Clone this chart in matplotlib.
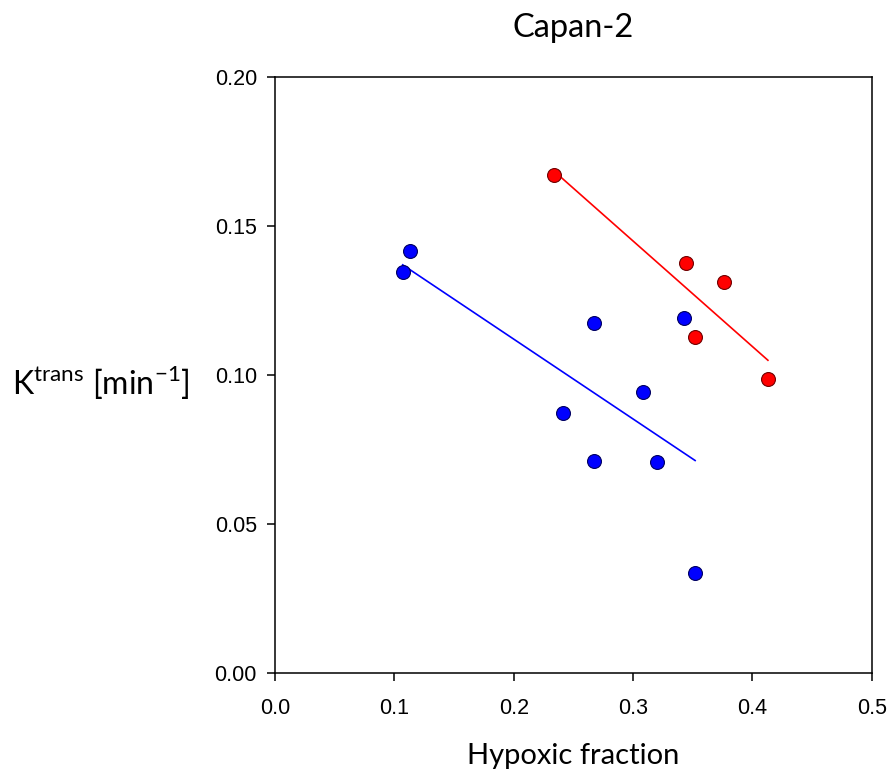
import numpy as np
import matplotlib
matplotlib.use('Agg')
import matplotlib.pyplot as plt

# Capan-2: Ktrans vs hypoxic fraction, two groups with linear fits
blue_x = [0.107, 0.113, 0.241, 0.267, 0.267, 0.308, 0.320, 0.343, 0.352]
blue_y = [0.1346, 0.1415, 0.0874, 0.1175, 0.0710, 0.0942, 0.0707, 0.1193, 0.0334]

red_x = [0.234, 0.344, 0.352, 0.376, 0.413]
red_y = [0.1672, 0.1377, 0.1126, 0.1311, 0.0987]

x_ticks = [0.0, 0.1, 0.2, 0.3, 0.4, 0.5]
y_ticks = [0.00, 0.05, 0.10, 0.15, 0.20]

fig = plt.figure(figsize=(8.92, 7.71), dpi=100)
ax = fig.add_axes([0.3083, 0.1271, 0.669, 0.773])

def fit_line(xs, ys, color):
    xs, ys = np.asarray(xs), np.asarray(ys)
    m, b = np.polyfit(xs, ys, 1)
    xx = np.array([xs.min(), xs.max()])
    ax.plot(xx, m * xx + b, color=color, lw=1.2, zorder=2)

fit_line(blue_x, blue_y, '#0000ff')
fit_line(red_x, red_y, '#ff0000')

ax.plot(blue_x, blue_y, 'o', ms=10, mfc='#0000ff', mec='#000060', mew=0.8, zorder=3)
ax.plot(red_x, red_y, 'o', ms=10, mfc='#ff0000', mec='#700000', mew=0.8, zorder=3)

ax.set_xlim(0, 0.5)
ax.set_ylim(0, 0.2)
ax.set_xticks(x_ticks)
ax.set_yticks(y_ticks)
ax.set_xticklabels([f'{v:.1f}' for v in x_ticks])
ax.set_yticklabels([f'{v:.2f}' for v in y_ticks])
ax.tick_params(direction='out', length=6, width=1.1, labelsize=15.5,
               top=False, right=False)
ax.tick_params(axis='x', pad=12)
ax.tick_params(axis='y', pad=7)
for lab in ax.get_xticklabels() + ax.get_yticklabels():
    lab.set_family('Liberation Sans')
for s in ax.spines.values():
    s.set_linewidth(1.1)

ax.set_title('Capan-2', fontsize=23.5, family='Lato', pad=29)
ax.set_xlabel('Hypoxic fraction', fontsize=21, family='Lato', labelpad=17)
fig.text(0.113, 0.503, r'K$^{\mathregular{trans}}$ [min$^{\mathregular{-1}}$]',
         fontsize=23, family='Lato', ha='center', va='center')

fig.savefig('out.png', dpi=100)
